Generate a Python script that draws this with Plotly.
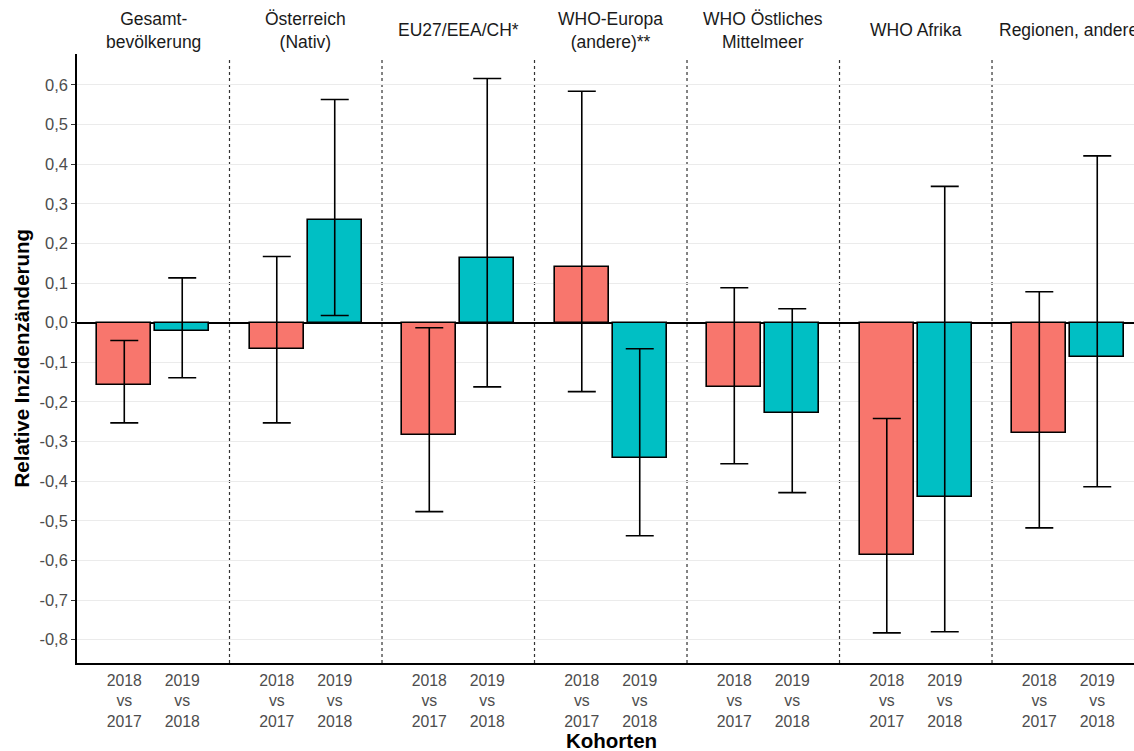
import plotly.graph_objects as go

# Cohort panels (facet labels) and comparison labels
panels = ["Gesamt-<br>bevölkerung", "Österreich<br>(Nativ)", "EU27/EEA/CH*",
          "WHO-Europa<br>(andere)**", "WHO Östliches<br>Mittelmeer", "WHO Afrika",
          "Regionen, andere"]
cmp_labels = ["2018<br>vs<br>2017", "2019<br>vs<br>2018"]

# Relative incidence change with confidence limits
est_1817 = [-0.157, -0.066, -0.283, 0.141, -0.162, -0.586, -0.278]
low_1817 = [-0.253, -0.253, -0.477, -0.174, -0.356, -0.783, -0.518]
up_1817 = [-0.045, 0.167, -0.013, 0.584, 0.088, -0.242, 0.078]

est_1918 = [-0.022, 0.260, 0.162, -0.341, -0.227, -0.439, -0.086]
low_1918 = [-0.139, 0.018, -0.162, -0.538, -0.429, -0.780, -0.414]
up_1918 = [0.113, 0.563, 0.616, -0.066, 0.035, 0.344, 0.421]

y_ticks = [-0.8, -0.7, -0.6, -0.5, -0.4, -0.3, -0.2, -0.1, 0.0, 0.1, 0.2, 0.3, 0.4, 0.5, 0.6]
y_ticktext = [f"{v:.1f}".replace(".", ",") for v in y_ticks]

OFFSET = 0.19
BAR_W = 0.354
n = len(panels)
x_1817 = [i - OFFSET for i in range(n)]
x_1918 = [i + OFFSET for i in range(n)]

fig = go.Figure()

for xs, est, lo, up, color in [
    (x_1817, est_1817, low_1817, up_1817, "#F8766D"),
    (x_1918, est_1918, low_1918, up_1918, "#00BFC4"),
]:
    fig.add_trace(go.Bar(
        x=xs, y=est, width=BAR_W,
        marker=dict(color=color, line=dict(color="black", width=1.6)),
        error_y=dict(
            type="data", symmetric=False,
            array=[u - e for u, e in zip(up, est)],
            arrayminus=[e - l for e, l in zip(est, lo)],
            color="black", thickness=1.6, width=14,
        ),
        showlegend=False,
    ))

# dotted separators between panels
shapes = []
for i in range(n - 1):
    shapes.append(dict(type="line", xref="x", yref="paper", x0=i + 0.5, x1=i + 0.5,
                       y0=0, y1=0.994, line=dict(color="#333333", width=1.2, dash="dot"),
                       layer="below"))

annotations = []
for i, lab in enumerate(panels):
    annotations.append(dict(x=i, xref="x", y=1, yref="paper", yshift=24,
                            text=lab, showarrow=False, yanchor="middle", xanchor="center",
                            font=dict(size=17.5, color="#1a1a1a"), align="center"))

annotations.append(dict(x=0, xref="paper", xshift=-56, y=0.5, yref="paper",
                        xanchor="center", yanchor="middle",
                        text="<b>Relative Inzidenzänderung</b>", textangle=-90,
                        showarrow=False, font=dict(size=20.5, color="black")))
annotations.append(dict(x=(611 - 77) / 1057, xref="paper", y=0, yref="paper", yshift=-77,
                        text="<b>Kohorten</b>", showarrow=False, yanchor="middle",
                        xanchor="center", font=dict(size=20.5, color="black")))

fig.update_layout(
    width=1134, height=751,
    margin=dict(l=77, r=0, t=54, b=88),
    plot_bgcolor="white", paper_bgcolor="white",
    font=dict(family="Liberation Sans, Arial, sans-serif"),
    shapes=shapes, annotations=annotations,
    bargap=0,
    xaxis=dict(
        range=[-0.5, 6.431],
        tickvals=x_1817 + x_1918,
        ticktext=[cmp_labels[0]] * n + [cmp_labels[1]] * n,
        tickfont=dict(size=15.8, color="#4d4d4d"),
        ticklabelstandoff=2,
        showgrid=False, zeroline=False,
        showline=True, linecolor="black", linewidth=1.6,
        ticks="", fixedrange=True,
    ),
    yaxis=dict(
        range=[-0.859, 0.678],
        tickvals=y_ticks, ticktext=y_ticktext,
        tickfont=dict(size=16.5, color="#4d4d4d"),
        showgrid=True, gridcolor="#ebebeb", gridwidth=1.2,
        zeroline=True, zerolinecolor="black", zerolinewidth=1.6,
        showline=True, linecolor="black", linewidth=1.6,
        ticks="outside", ticklen=4, tickcolor="#333333", tickwidth=1.2,
    ),
)

fig.write_html("out.html")
